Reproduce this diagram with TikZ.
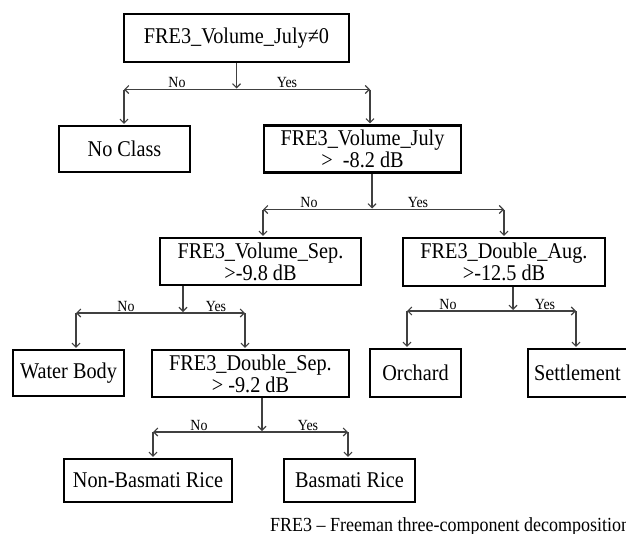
\documentclass[tikz,border=0pt]{standalone}
\usepackage{fontspec}
\setmainfont[FakeStretch=0.9]{Liberation Serif}
\usetikzlibrary{arrows.meta}
\begin{document}
\begin{tikzpicture}[x=1pt,y=-1pt,
  box/.style={draw=black, line width=2.2pt, inner sep=0pt, align=center, font=\fontsize{22.5}{22}\selectfont},
  conn/.style={draw=black!75, line width=1.1pt},
  arr/.style={conn, -{Straight Barb[length=4pt,width=8pt]}, shorten >=1pt},
  darr/.style={conn, {Straight Barb[length=4pt,width=8pt]}-{Straight Barb[length=4pt,width=8pt]}},
  lbl/.style={font=\fontsize{15.5}{16}\selectfont, inner sep=0pt, anchor=base}]
\useasboundingbox (0,0) rectangle (626,533);
\clip (0,0) rectangle (626,533);

% boxes
\node[box, minimum width=225pt, minimum height=48pt] (b1) at (236.5,38) {FRE3\_Volume\_July≠0};
\node[box, minimum width=131pt, minimum height=46pt] (nc) at (124.5,149) {No Class};
\node[box, minimum width=197pt, minimum height=47pt] (b2) at (362.5,149) {FRE3\_Volume\_July\\>\ \ -8.2 dB};
\node[box, minimum width=201pt, minimum height=47pt] (vs) at (260.5,261.5) {FRE3\_Volume\_Sep.\\>-9.8 dB};
\node[box, minimum width=202pt, minimum height=48pt] (da) at (504,262) {FRE3\_Double\_Aug.\\>-12.5 dB};
\node[box, minimum width=111pt, minimum height=46pt] (wb) at (68.5,373) {Water Body};
\node[box, minimum width=197pt, minimum height=47pt] (ds) at (250.5,373.5) {FRE3\_Double\_Sep.\\> -9.2 dB};
\node[box, minimum width=91pt, minimum height=48pt] (oc) at (415.5,373) {Orchard};
\node[box, anchor=west, minimum height=48pt, inner xsep=6pt] (st) at (527,373) {Settlement\kern25pt};
\node[box, minimum width=168pt, minimum height=43pt] (nb) at (148,480.5) {Non-Basmati Rice};
\node[box, minimum width=131pt, minimum height=43pt] (bs) at (349.5,480.5) {Basmati Rice};

\node[anchor=base west, inner sep=0pt, font=\fontsize{20}{20}\selectfont] (ft) at (270,531) {FRE3 – Freeman three-component decomposition};

% split 1
\coordinate (s1L) at (124,89.5);
\coordinate (s1R) at (370,89.5);
\draw[arr] (b1.south) -- (b1.south |- s1L);
\draw[darr] (s1L) -- (s1R);
\draw[arr] (s1L) -- (s1L |- nc.north);
\draw[arr] (s1R) -- (s1R |- b2.north);
\node[lbl] (n1) at (177,87.5) {No};
\node[lbl] (y1) at (287,87.5) {Yes};

% split 2
\coordinate (s2L) at (263,209.5);
\coordinate (s2R) at (504,209.5);
\coordinate (s2T) at (372,0);
\draw[arr] (s2T |- b2.south) -- (s2T |- s2L);
\draw[darr] (s2L) -- (s2R);
\draw[arr] (s2L) -- (s2L |- vs.north);
\draw[arr] (s2R) -- (s2R |- da.north);
\node[lbl] (n2) at (309,207) {No};
\node[lbl] (y2) at (418,207) {Yes};

% split 3
\coordinate (s3L) at (76,313);
\coordinate (s3R) at (245,313);
\coordinate (s3T) at (183,0);
\draw[arr] (s3T |- vs.south) -- (s3T |- s3L);
\draw[darr] (s3L) -- (s3R);
\draw[arr] (s3L) -- (s3L |- wb.north);
\draw[arr] (s3R) -- (s3R |- ds.north);
\node[lbl] (n3) at (126,311) {No};
\node[lbl] (y3) at (216,311) {Yes};

% split 4
\coordinate (s4L) at (407,311);
\coordinate (s4R) at (576,311);
\coordinate (s4T) at (513,0);
\draw[arr] (s4T |- da.south) -- (s4T |- s4L);
\draw[darr] (s4L) -- (s4R);
\draw[arr] (s4L) -- (s4L |- oc.north);
\draw[arr] (s4R) -- (s4R |- st.north);
\node[lbl] (n4) at (448,309.5) {No};
\node[lbl] (y4) at (545,309.5) {Yes};

% split 5
\coordinate (s5L) at (153,432);
\coordinate (s5R) at (348,432);
\coordinate (s5T) at (262,0);
\draw[arr] (s5T |- ds.south) -- (s5T |- s5L);
\draw[darr] (s5L) -- (s5R);
\draw[arr] (s5L) -- (s5L |- nb.north);
\draw[arr] (s5R) -- (s5R |- bs.north);
\node[lbl] (n5) at (199,430) {No};
\node[lbl] (y5) at (308,430) {Yes};
\end{tikzpicture}
\end{document}
